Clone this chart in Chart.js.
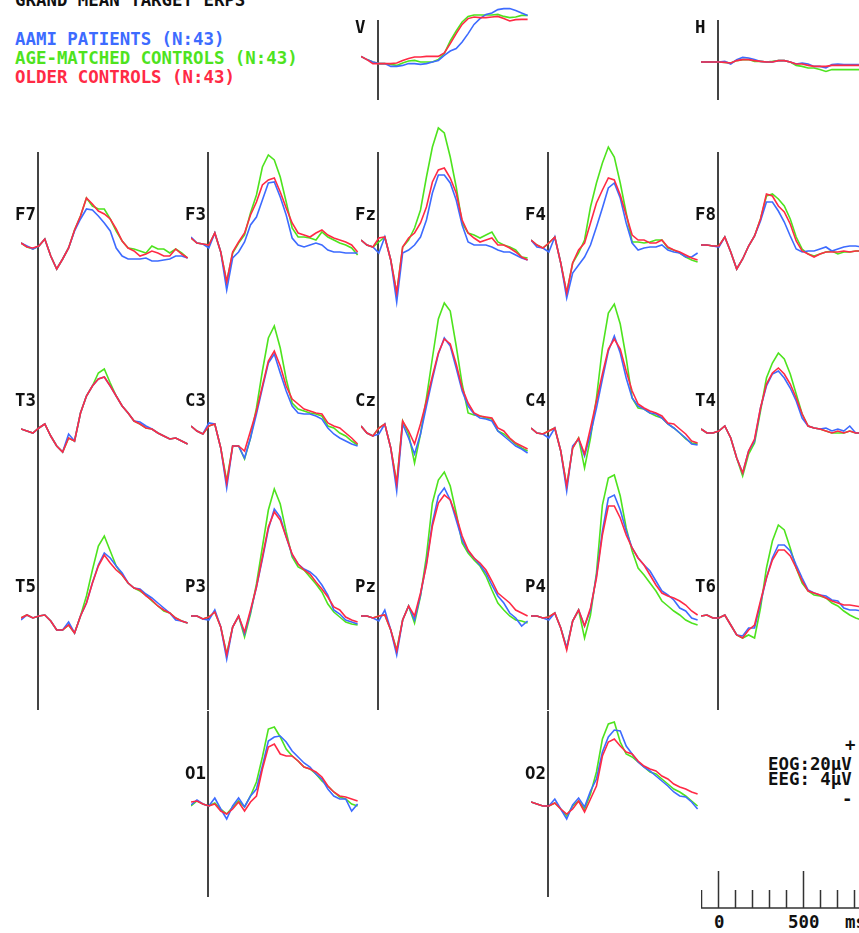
<!DOCTYPE html>
<html>
<head>
<meta charset="utf-8">
<script src="https://cdn.jsdelivr.net/npm/chart.js@4.4.1/dist/chart.umd.min.js"></script>
<style>
html, body { margin: 0; padding: 0; background: #fff; width: 859px; height: 933px; overflow: hidden; }
body { position: relative; font-family: "DejaVu Sans Mono", monospace; font-size: 17.4px; font-weight: bold; }
.t { position: absolute; white-space: pre; line-height: 18px; color: #111; }
canvas { position: absolute; }
</style>
</head>
<body>
<div class="t" style="left:15px;top:-9px">GRAND MEAN TARGET ERPS</div>
<div class="t" style="left:15px;top:30px;color:#3d6bff">AAMI PATIENTS (N:43)</div>
<div class="t" style="left:15px;top:49px;color:#4ee31e">AGE-MATCHED CONTROLS (N:43)</div>
<div class="t" style="left:15px;top:68px;color:#ff2a45">OLDER CONTROLS (N:43)</div>
<div class="t" style="left:845px;top:736px">+</div>
<div class="t" style="left:768px;top:755px">EOG:20µV</div>
<div class="t" style="left:768px;top:770px">EEG: 4µV</div>
<div class="t" style="left:842px;top:790px">-</div>
<div class="t" style="left:714px;top:913px">0</div>
<div class="t" style="left:788px;top:913px">500</div>
<div class="t" style="left:845px;top:913px">ms</div>
<canvas id="scale" width="170" height="60" style="left:701px;top:860px"></canvas>
<script>
// time points (ms) shared by every trace
const times = [-100, -65, -30, 5, 40, 75, 110, 145, 180, 215, 250, 285, 320, 355, 390,
  425, 460, 495, 530, 565, 600, 635, 670, 705, 740, 775, 810, 845, 880];

// EOG (µV)
const vAami  = [2.8,1.2,0,-0.8,-0.8,-2.2,-2.2,-1.7,-0.8,-0.8,-1.2,-0.8,0,0.8,3.3,5.5,6.7,10.0,14.2,18.8,21.7,23.8,24.5,26.2,26.7,26.7,25.8,24.5,23.3];
const vAge   = [2.8,1.2,0,-0.8,-0.8,-1.2,-1.7,-0.5,0.5,0.8,0,0,0,1.2,4.2,10.5,15.5,20.0,22.8,23.5,23.5,23.5,23.5,23.8,22.8,22.2,22.5,23.3,23.3];
const vOlder = [2.8,1.2,-0.8,-0.8,-0.8,-0.8,-0.5,0.8,1.7,2.5,2.5,2.8,2.8,2.8,4.5,9.2,14.2,18.8,21.7,22.5,22.2,22.2,22.5,22.8,21.7,20.5,21.2,21.3,21.3];
const hAami  = [0,0,0,0,0.3,-1.0,1.2,2.3,2.0,1.2,0.3,0,0,0.7,0.7,0,-1.0,-0.5,-1.0,-2.2,-2.2,-3.0,-1.3,-1.0,-1.3,-1.3,-1.3,-1.3,-1.3];
const hAge   = [0,0,0,0,-0.2,-0.5,0.7,1.2,1.2,0.3,0.3,0,0.3,0.7,0.7,0,-1.7,-2.2,-3.0,-3.0,-3.8,-4.7,-3.8,-3.8,-3.8,-3.8,-3.8,-3.8,-3.8];
const hOlder = [0,0,0,0,-0.2,-0.5,0.7,1.2,1.2,0.7,0.3,0,0,0.7,0.7,0,-1.0,-1.0,-1.7,-2.2,-2.2,-2.2,-1.7,-1.7,-1.7,-1.7,-1.7,-1.7,-1.7];

// EEG (µV)
const f7Aami  = [0.2,-0.1,-0.4,-0.1,0.6,-1.1,-2.4,-1.4,-0.3,1.4,2.6,3.6,3.5,2.9,2.2,1.4,-0.3,-1.1,-1.4,-1.4,-1.4,-1.3,-1.6,-1.6,-1.5,-1.4,-1.1,-1.1,-1.3];
const f7Age   = [0.2,-0.2,-0.4,-0.1,0.6,-1.1,-2.4,-1.4,-0.3,1.5,2.9,4.7,3.9,3.6,3.6,2.6,1.4,0.4,-0.3,-0.4,-0.6,-0.8,-0.1,-0.4,-0.4,-0.8,-0.4,-0.8,-1.3];
const f7Older = [0.2,-0.2,-0.3,-0.1,0.6,-1.1,-2.4,-1.4,-0.3,1.5,2.9,4.7,4.1,3.4,3.1,2.6,1.6,0.4,-0.3,-0.6,-1.1,-0.9,-0.6,-0.8,-1.1,-1.1,-0.4,-0.9,-1.3];

const f3Aami  = [0.8,0.2,0.1,-0.3,1.2,-0.7,-4.5,-1.3,-0.7,0.3,2.0,2.8,4.5,6.2,6.3,4.8,3.0,0.7,0,-0.2,0,0.2,0,-0.5,-0.7,-0.7,-0.8,-0.8,-0.8];
const f3Age   = [0.7,0.2,0.1,0,1.2,-0.7,-3.7,-0.8,0.2,1.0,3.2,5.0,7.8,9.0,8.5,6.8,4.3,1.7,0.8,0.8,0.7,0.5,1.3,0.8,0.5,0.2,0,-0.3,-1.0];
const f3Older = [0.7,0.2,0.1,0,1.2,-0.7,-3.7,-0.7,0.3,1.2,3.0,4.3,6.0,6.5,6.7,5.3,3.7,2.2,1.2,1.0,0.8,1.2,1.5,1.0,0.7,0.5,0.3,0,-0.7];

const fzAami  = [0.5,0,-0.2,-0.8,0.8,-1.5,-5.7,-0.8,-0.5,0,0.8,2.5,5.2,7.0,7.0,6.2,4.5,2.0,0.3,0,0,0,-0.2,-0.5,-0.7,-0.7,-1.0,-1.3,-1.5];
const fzAge   = [0.5,0,-0.2,0.3,0.8,-1.5,-4.8,-0.2,0.5,1.7,3.5,6.8,9.8,11.7,11.2,8.8,5.8,2.2,1.2,1.0,0.7,1.0,1.3,0.3,0,-0.2,-0.5,-1.2,-1.3];
const fzOlder = [0.5,0,-0.2,0.7,0.8,-1.5,-4.8,-0.2,0.7,1.2,2.2,3.8,6.3,7.5,7.7,6.7,5.2,2.5,1.2,0.7,0.3,0.5,0.7,0,0,-0.3,-0.7,-1.2,-1.5];

const f4Aami  = [0.5,-0.2,-0.3,-0.7,0.8,-1.8,-5.3,-2.8,-2.0,-1.2,0,1.8,3.7,5.7,6.2,4.7,2.2,0.2,-0.5,-0.3,-0.2,-0.2,0,-0.5,-0.7,-0.8,-1.2,-1.2,-0.8];
const f4Age   = [0.5,0,-0.3,0.2,0.8,-1.8,-4.8,-1.8,-0.8,0.5,3.8,6.2,8.2,9.8,8.8,6.2,3.2,0.3,0.3,0.2,0.3,0.5,0.5,-0.3,-0.5,-0.8,-1.2,-1.5,-1.7];
const f4Older = [0.5,0,-0.3,0.2,0.8,-1.8,-4.8,-1.8,-0.5,0.2,2.2,4.2,5.5,6.7,6.5,5.0,3.0,1.0,0.5,0.5,0.2,0.2,0.5,-0.2,-0.5,-0.7,-1.0,-1.3,-1.5];

const f8Aami  = [0,0,-0.1,-0.2,0.8,-0.7,-2.4,-1.4,-0.1,0.9,2.4,4.3,4.3,3.4,2.3,0.9,-0.4,-0.7,-0.6,-0.6,-0.4,-0.2,-0.6,-0.4,-0.2,-0.1,-0.1,-0.2,-0.2];
const f8Age   = [0,0,-0.1,-0.1,0.8,-0.7,-2.4,-1.4,-0.1,0.9,2.6,4.9,5.1,4.6,3.9,2.6,0.8,-0.4,-0.9,-1.1,-0.9,-0.7,-0.6,-0.9,-0.7,-0.7,-0.6,-0.6,-0.6];
const f8Older = [0,0,-0.1,-0.1,0.8,-0.7,-2.4,-1.4,-0.1,0.9,2.6,5.1,4.9,3.9,3.3,2.1,0.4,-0.6,-0.9,-1.2,-0.9,-0.7,-0.7,-0.7,-0.6,-0.7,-0.6,-0.6,-0.6];

const t3Aami  = [0.2,0,-0.2,0.3,0.7,-0.5,-1.5,-2.1,-0.3,-1.0,1.8,3.5,4.5,5.2,5.4,4.5,3.5,2.5,1.8,1.0,0.9,0.5,0.2,-0.2,-0.5,-0.8,-0.7,-1.0,-1.3];
const t3Age   = [0.2,0,-0.2,0.3,0.7,-0.5,-1.5,-2.1,-0.7,-1.0,1.8,3.5,4.5,5.8,6.2,4.8,3.5,2.5,1.8,1.0,0.7,0.3,0.2,-0.2,-0.5,-0.8,-0.7,-1.0,-1.3];
const t3Older = [0.2,0,-0.2,0.3,0.7,-0.5,-1.5,-2.1,-0.7,-1.0,1.8,3.5,4.5,5.2,5.4,4.5,3.5,2.5,1.8,1.0,0.7,0.3,0.2,-0.2,-0.5,-0.8,-0.7,-1.0,-1.3];

const c3Aami  = [0.5,0,-0.3,0.8,0.7,-1.7,-5.7,-1.5,-1.5,-2.7,-0.7,1.7,4.3,6.8,7.7,5.8,4.0,2.5,1.8,1.7,1.7,1.5,1.2,0.3,-0.3,-0.7,-1.0,-1.3,-1.5];
const c3Age   = [0.5,0,-0.3,0.5,0.7,-1.7,-5.0,-1.5,-1.5,-2.8,-0.7,2.3,6.0,9.3,10.5,8.3,5.2,2.8,2.2,2.0,1.8,1.7,1.5,0.5,0.3,-0.2,-0.5,-1.0,-1.4];
const c3Older = [0.5,0,-0.3,0.5,0.7,-1.7,-5.2,-1.5,-1.5,-2.0,0,2.0,4.5,7.0,8.0,6.5,4.5,3.2,2.7,2.2,2.0,1.8,1.7,0.8,0.5,0.3,-0.2,-0.7,-1.3];

const czAami  = [0.5,-0.2,-0.5,-0.3,0.7,-1.7,-6.0,0.7,-0.7,-2.3,-0.3,2.5,5.2,7.7,9.3,8.5,6.3,4.0,2.5,1.7,1.3,1.2,1.0,0,-0.5,-1.0,-1.5,-1.8,-2.2];
const czAge   = [0.5,-0.2,-0.5,0.3,0.7,-1.7,-5.2,1.0,-0.3,-3.2,-0.3,3.3,7.3,11.2,12.8,12.0,8.5,4.7,1.8,1.6,1.5,1.3,1.2,0,-0.3,-0.8,-1.3,-1.7,-2.0];
const czOlder = [0.5,-0.2,-0.5,0.3,0.7,-1.7,-5.3,1.0,0,-1.3,0.7,3.0,5.5,7.8,9.2,8.7,6.7,4.3,2.8,1.8,1.5,1.4,1.3,0.3,0,-0.7,-1.2,-1.5,-1.8];

const c4Aami  = [0.3,-0.2,-0.3,-0.7,0.3,-2.0,-6.0,-1.5,-0.8,-2.5,-0.3,2.3,5.2,8.0,9.5,7.8,5.3,3.3,2.5,2.2,1.8,1.7,1.3,0.7,0.3,-0.2,-0.7,-1.3,-1.4];
const c4Age   = [0.3,-0.2,-0.3,0,0.3,-2.0,-5.5,-1.7,-0.7,-3.7,-0.7,3.3,8.3,11.8,12.7,10.7,7.3,3.3,2.3,2.2,1.8,1.5,1.3,0.7,0.3,-0.2,-0.8,-1.2,-1.3];
const c4Older = [0.3,-0.2,-0.3,0,0.3,-2.0,-5.5,-1.7,-0.7,-2.3,0.3,3.0,5.7,8.2,9.2,8.2,6.0,4.0,2.7,2.3,2.0,1.8,1.5,0.8,0.7,0.2,-0.3,-1.0,-1.2];

const t4Aami  = [0.2,-0.2,-0.2,0,0.5,-0.7,-2.7,-4.2,-2.0,-1.0,2.3,4.5,5.7,6.0,5.3,4.3,3.0,1.3,0.5,0.3,0.2,0.3,0,0.2,0,0.5,-0.2,-0.2,-0.2];
const t4Age   = [0.2,-0.2,-0.2,0,0.5,-0.7,-2.7,-4.5,-2.3,-1.2,2.0,5.3,6.8,7.8,7.2,5.7,3.7,1.7,0.5,0.3,0.2,0,-0.2,-0.2,-0.2,0,-0.2,-0.2,-0.2];
const t4Older = [0.2,-0.2,-0.2,0,0.5,-0.7,-2.7,-4.2,-2.0,-0.8,2.3,4.7,5.8,6.3,5.7,4.7,3.3,1.7,0.5,0.3,0.2,0,-0.2,0,-0.2,0,-0.2,-0.2,-0.2];

const t5Aami  = [-0.3,0.2,-0.1,0.1,0.2,-0.4,-1.3,-1.3,-0.5,-1.6,0.1,1.4,3.4,5.2,6.4,5.9,5.1,4.4,3.4,2.9,2.8,2.3,1.9,1.4,0.9,0.4,-0.3,-0.4,-0.6];
const t5Age   = [-0.1,0.2,-0.1,0.1,0.2,-0.4,-1.3,-1.3,-0.8,-1.6,0.1,2.1,4.7,7.1,8.1,6.6,5.1,4.2,3.4,2.9,2.6,2.2,1.6,1.1,0.6,0.4,-0.1,-0.4,-0.6];
const t5Older = [-0.1,0.2,-0.1,0.1,0.2,-0.4,-1.3,-1.3,-0.8,-1.6,0.1,1.4,3.4,5.1,6.2,5.4,4.7,4.2,3.4,2.9,2.7,2.1,1.7,1.1,0.7,0.4,-0.1,-0.4,-0.6];

const p3Aami  = [0.1,0.1,-0.2,-0.3,0.7,-1.0,-4.2,-1.0,0.1,-1.7,0.5,3.0,5.8,8.8,10.8,10.0,8.0,6.2,5.3,4.8,4.5,4.0,3.2,2.2,0.7,0.3,-0.3,-0.5,-0.7];
const p3Age   = [0.1,0.1,-0.2,0,0.5,-1.0,-3.7,-1.0,0.1,-2.0,0.3,3.3,7.0,10.7,12.8,11.3,8.5,6.0,5.0,4.7,4.0,3.3,2.5,1.3,0.5,0,-0.5,-0.7,-0.8];
const p3Older = [0.1,0.1,-0.2,0,0.5,-1.0,-3.8,-1.0,0.1,-1.5,0.7,3.0,6.0,9.0,10.5,9.7,8.0,6.3,5.3,4.7,4.3,3.5,2.8,2.0,1.0,0.7,0,-0.3,-0.5];

const pzAami  = [0.1,0.1,-0.1,-0.4,0.7,-1.3,-3.8,-0.3,1.1,-0.3,2.2,5.4,9.4,12.1,12.9,11.7,9.7,7.7,6.6,5.9,5.2,4.4,3.2,2.1,1.4,0.4,-0.1,-0.9,-0.4];
const pzAge   = [0.1,0.1,-0.1,0.1,0.2,-1.3,-3.3,-0.3,1.1,-0.6,2.1,6.1,11.4,13.7,14.5,13.1,10.4,7.4,6.4,5.7,5.1,4.1,2.7,1.4,0.7,0.1,-0.3,-0.4,-0.6];
const pzOlder = [0.1,0.1,-0.1,0.1,0.2,-1.3,-3.4,-0.3,1.1,0.1,2.4,5.2,9.1,11.4,12.2,11.7,10.1,8.1,6.7,5.9,5.4,4.7,3.6,2.4,1.9,1.4,0.7,0.4,0.1];

const p4Aami  = [0.1,0.1,-0.1,-0.3,0.4,-1.1,-3.1,-0.4,0.7,-0.9,0.7,4.1,8.6,11.9,12.2,10.7,8.6,6.9,5.9,5.2,4.6,3.6,2.6,2.2,1.7,0.9,0.6,-0.1,-0.3];
const p4Age   = [0.1,0.1,-0.1,0,0.4,-1.1,-3.1,-0.4,0.7,-2.1,0.2,4.4,11.2,13.9,14.2,12.1,8.9,6.6,4.9,4.2,3.4,2.6,1.6,1.1,0.6,0.2,-0.3,-0.6,-0.8];
const p4Older = [0.1,0.1,-0.1,0,0.4,-1.1,-3.3,-0.4,0.7,-0.9,0.9,3.9,8.2,11.1,11.1,9.9,8.2,6.9,5.9,5.2,4.2,3.2,2.4,2.1,1.9,1.6,1.2,0.6,0.2];

const t6Aami  = [0.1,0.2,-0.1,-0.1,0.2,-0.8,-1.8,-1.9,-1.1,-1.1,1.4,3.9,5.9,7.2,7.2,6.6,5.2,3.9,2.7,2.4,2.2,2.1,1.7,1.6,0.9,0.7,0.7,0.6,0.5];
const t6Age   = [0.1,0.2,-0.1,-0.1,0.2,-0.8,-1.8,-2.1,-1.8,-2.1,0.9,4.9,7.6,9.2,8.7,6.9,4.9,3.4,2.6,2.2,2.1,1.9,1.4,1.1,0.6,0.2,-0.1,-0.3,-0.4];
const t6Older = [0.1,0.2,-0.1,-0.1,0.2,-0.8,-1.8,-2.1,-1.3,-0.8,1.6,3.9,5.7,6.7,6.7,6.1,4.9,3.6,2.6,2.4,2.2,1.9,1.6,1.4,1.2,1.2,1.1,1.0,1.0];

const o1Aami  = [-0.1,0.4,0,-0.2,0.6,-0.5,-1.5,-0.2,0.6,-0.3,0.8,1.5,3.8,6.3,6.7,6.8,6.2,5.3,4.7,4.1,3.7,3.0,2.5,1.5,0.8,0.5,0.5,-0.7,0];
const o1Age   = [-0.2,0.3,0,-0.2,0.1,-0.5,-1.0,-0.3,0.3,-0.3,0.8,2.2,4.7,7.5,7.7,6.7,5.5,4.8,4.3,3.7,3.5,3.0,2.3,1.8,1.2,0.7,0.5,0,-0.2];
const o1Older = [0.2,0.3,0,-0.2,0,-0.7,-1.0,-0.5,0.2,-0.7,0.2,0.8,3.5,5.7,6.0,5.0,4.8,4.8,4.3,3.7,3.5,3.2,2.7,1.8,1.2,0.8,0.7,0.5,0.3];

const o2Aami  = [0.2,0,-0.2,-0.2,0.5,-0.5,-1.5,-0.1,0.6,-0.3,1.3,2.5,5.2,6.7,7.4,7.3,5.8,5.0,4.2,3.7,3.3,2.8,2.3,1.8,1.2,0.8,0.7,0.2,-0.5];
const o2Age   = [0.2,0,-0.2,-0.2,0.1,-0.5,-1.2,-0.2,0.3,-0.5,1.0,3.2,6.5,8.0,8.2,6.2,5.0,4.7,4.2,3.7,3.2,3.0,2.5,2.0,1.5,1.2,0.8,0.3,-0.2];
const o2Older = [0.2,0,-0.2,-0.2,0.1,-0.5,-1.0,-0.5,0.3,-0.8,0.5,1.8,4.8,6.2,6.5,5.8,5.2,5.0,4.3,3.8,3.5,3.3,2.8,2.5,2.0,1.7,1.5,1.2,1.0];

// scale bar ticks (ms)
const scaleTicks = [-100, 0, 100, 200, 300, 400, 500, 600, 700, 800];
const majorTicks = [0, 500];

const COLORS = { aami: '#3d6bff', age: '#4ee31e', older: '#ff2a45' };
const rowBase = [245, 431, 617, 804];

const panels = [
  {name: 'V',  col: 2, base: 62, eog: true, aami: vAami, age: vAge, older: vOlder},
  {name: 'H',  col: 4, base: 62, eog: true, aami: hAami, age: hAge, older: hOlder},
  {name: 'F7', col: 0, row: 0, aami: f7Aami, age: f7Age, older: f7Older},
  {name: 'F3', col: 1, row: 0, aami: f3Aami, age: f3Age, older: f3Older},
  {name: 'Fz', col: 2, row: 0, aami: fzAami, age: fzAge, older: fzOlder},
  {name: 'F4', col: 3, row: 0, aami: f4Aami, age: f4Age, older: f4Older},
  {name: 'F8', col: 4, row: 0, aami: f8Aami, age: f8Age, older: f8Older},
  {name: 'T3', col: 0, row: 1, aami: t3Aami, age: t3Age, older: t3Older},
  {name: 'C3', col: 1, row: 1, aami: c3Aami, age: c3Age, older: c3Older},
  {name: 'Cz', col: 2, row: 1, aami: czAami, age: czAge, older: czOlder},
  {name: 'C4', col: 3, row: 1, aami: c4Aami, age: c4Age, older: c4Older},
  {name: 'T4', col: 4, row: 1, aami: t4Aami, age: t4Age, older: t4Older},
  {name: 'T5', col: 0, row: 2, aami: t5Aami, age: t5Age, older: t5Older},
  {name: 'P3', col: 1, row: 2, aami: p3Aami, age: p3Age, older: p3Older},
  {name: 'Pz', col: 2, row: 2, aami: pzAami, age: pzAge, older: pzOlder},
  {name: 'P4', col: 3, row: 2, aami: p4Aami, age: p4Age, older: p4Older},
  {name: 'T6', col: 4, row: 2, aami: t6Aami, age: t6Age, older: t6Older},
  {name: 'O1', col: 1, row: 3, aami: o1Aami, age: o1Age, older: o1Older},
  {name: 'O2', col: 3, row: 3, aami: o2Aami, age: o2Age, older: o2Older},
];

// vertical line at stimulus onset
const zeroLine = {
  id: 'zeroLine',
  beforeDatasetsDraw: (chart, args, opts) => {
    const {ctx, scales: {x, y}} = chart;
    const px = x.getPixelForValue(0);
    ctx.save();
    ctx.strokeStyle = opts.color;
    ctx.lineWidth = opts.width;
    ctx.beginPath();
    ctx.moveTo(px, y.getPixelForValue(opts.top));
    ctx.lineTo(px, y.getPixelForValue(opts.bottom));
    ctx.stroke();
    ctx.restore();
  }
};

const toPoints = arr => arr.map((v, i) => ({x: times[i], y: v}));

panels.forEach(p => {
  // EEG: 10 px per µV, EOG (20µV cal vs 4µV): 2 px per µV
  const ppu = p.eog ? 2 : 10;
  const yMin = p.eog ? -25 : -10;
  const yMax = p.eog ? 35 : 16;
  const base = p.eog ? p.base : rowBase[p.row];
  const h = (yMax - yMin) * ppu;

  const cv = document.createElement('canvas');
  cv.width = 170;
  cv.height = h;
  cv.style.left = (21 + 170 * p.col) + 'px';
  cv.style.top = (base - yMax * ppu) + 'px';
  document.body.appendChild(cv);

  const lab = document.createElement('div');
  lab.className = 't';
  lab.textContent = p.name;
  lab.style.left = (15 + 170 * p.col) + 'px';
  lab.style.top = (base - (p.eog ? 44 : 40)) + 'px';
  document.body.appendChild(lab);

  new Chart(cv, {
    type: 'line',
    data: {
      datasets: [
        {label: 'OLDER CONTROLS', data: toPoints(p.older), borderColor: COLORS.older},
        {label: 'AAMI PATIENTS', data: toPoints(p.aami), borderColor: COLORS.aami},
        {label: 'AGE-MATCHED CONTROLS', data: toPoints(p.age), borderColor: COLORS.age},
      ]
    },
    options: {
      responsive: false,
      animation: false,
      events: [],
      layout: {padding: 0},
      elements: {
        point: {radius: 0},
        line: {borderWidth: 1.6, tension: 0}
      },
      scales: {
        x: {type: 'linear', min: -100, max: 900, display: false},
        y: {type: 'linear', min: yMin, max: yMax, display: false}
      },
      plugins: {
        legend: {display: false},
        tooltip: {enabled: false},
        zeroLine: {
          color: '#444',
          width: 2,
          top: p.eog ? 21 : 9.3,
          bottom: p.eog ? -19 : -9.3
        }
      }
    },
    plugins: [zeroLine],
  });
});

// time calibration bar
const scaleBar = {
  id: 'scaleBar',
  afterDraw: (chart) => {
    const {ctx, scales: {x}} = chart;
    const yb = 48;
    ctx.save();
    ctx.strokeStyle = '#333';
    ctx.lineWidth = 1.5;
    ctx.beginPath();
    ctx.moveTo(x.getPixelForValue(-100), yb);
    ctx.lineTo(x.getPixelForValue(900), yb);
    scaleTicks.forEach(t => {
      const px = Math.round(x.getPixelForValue(t)) + 0.5;
      ctx.moveTo(px, yb);
      ctx.lineTo(px, majorTicks.includes(t) ? yb - 37 : yb - 18);
    });
    ctx.stroke();
    ctx.restore();
  }
};

new Chart(document.getElementById('scale'), {
  type: 'line',
  data: {datasets: []},
  options: {
    responsive: false,
    animation: false,
    events: [],
    layout: {padding: 0},
    scales: {
      x: {type: 'linear', min: -100, max: 900, display: false},
      y: {min: 0, max: 1, display: false}
    },
    plugins: {legend: {display: false}, tooltip: {enabled: false}}
  },
  plugins: [scaleBar],
});
</script>
</body>
</html>
